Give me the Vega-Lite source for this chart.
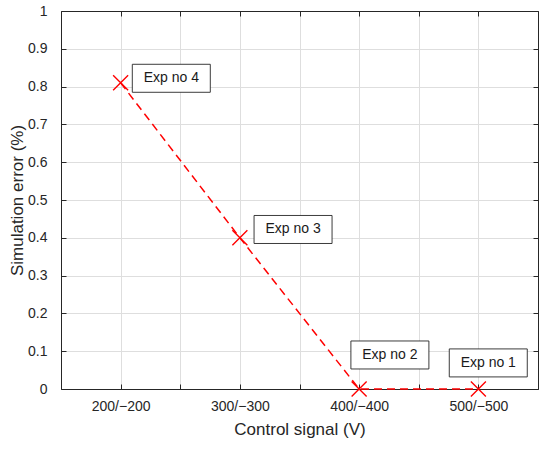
{
  "$schema": "https://vega.github.io/schema/vega-lite/v6.json",
  "width": 477,
  "height": 378,
  "autosize": {"type": "none"},
  "padding": {"left": 61, "top": 11, "right": 12, "bottom": 60},
  "background": "white",
  "config": {
    "font": "Liberation Sans",
    "view": {"stroke": "#262626", "strokeWidth": 1},
    "axis": {
      "labelColor": "#262626",
      "labelFontSize": 14,
      "titleColor": "#262626",
      "titleFontSize": 17,
      "titleFontWeight": "normal",
      "domainColor": "#262626",
      "tickColor": "#262626",
      "gridColor": "#dedede",
      "gridWidth": 1
    }
  },
  "datasets": {
    "runs": [
      {"signal": 2, "err": 0.81, "exp": "Exp no 4"},
      {"signal": 3, "err": 0.4, "exp": "Exp no 3"},
      {"signal": 4, "err": 0.0, "exp": "Exp no 2"},
      {"signal": 5, "err": 0.0, "exp": "Exp no 1"}
    ],
    "notes": [
      {"bx": 2.425, "by": 0.822, "label": "Exp no 4"},
      {"bx": 3.446, "by": 0.422, "label": "Exp no 3"},
      {"bx": 4.258, "by": 0.09, "label": "Exp no 2"},
      {"bx": 5.083, "by": 0.069, "label": "Exp no 1"}
    ]
  },
  "resolve": {"axis": {"x": "independent", "y": "independent"}},
  "layer": [
    {
      "data": {"name": "runs"},
      "mark": {"type": "line", "color": "#ff0000", "strokeDash": [8, 5], "strokeWidth": 1.5},
      "encoding": {
        "x": {
          "field": "signal", "type": "quantitative",
          "scale": {"domain": [1.5, 5.5], "nice": false, "zero": false},
          "axis": {
            "orient": "bottom",
            "values": [2, 2.5, 3, 3.5, 4, 4.5, 5],
            "labelExpr": "datum.value % 1 === 0 ? (datum.value * 100) + '/\u2212' + (datum.value * 100) : ''",
            "tickSize": -5,
            "labelPadding": 15,
            "title": "Control signal (V)",
            "titlePadding": 8
          }
        },
        "y": {
          "field": "err", "type": "quantitative",
          "scale": {"domain": [0, 1], "nice": false},
          "axis": {
            "orient": "left",
            "values": [0, 0.1, 0.2, 0.3, 0.4, 0.5, 0.6, 0.7, 0.8, 0.9, 1],
            "format": "~g",
            "tickSize": -5,
            "labelPadding": 19,
            "title": "Simulation error (%)",
            "titlePadding": 1
          }
        },
        "order": {"field": "signal"}
      }
    },
    {
      "data": {"name": "runs"},
      "mark": {"type": "point", "shape": "M-1,-1L1,1M-1,1L1,-1", "filled": false, "stroke": "#ff0000", "strokeWidth": 1.4, "size": 225, "opacity": 1},
      "encoding": {
        "x": {
          "field": "signal", "type": "quantitative",
          "axis": {"orient": "top", "values": [2, 2.5, 3, 3.5, 4, 4.5, 5], "labels": false, "grid": false, "tickSize": -5, "title": null}
        },
        "y": {
          "field": "err", "type": "quantitative",
          "axis": {"orient": "right", "values": [0, 0.1, 0.2, 0.3, 0.4, 0.5, 0.6, 0.7, 0.8, 0.9, 1], "labels": false, "grid": false, "tickSize": -5, "title": null}
        }
      }
    },
    {
      "data": {"name": "notes"},
      "mark": {"type": "point", "shape": "M-1,-0.359L1,-0.359L1,0.359L-1,0.359Z", "filled": true, "fill": "white", "stroke": "#262626", "strokeWidth": 0.9, "size": 6084, "opacity": 1},
      "encoding": {
        "x": {"field": "bx", "type": "quantitative", "axis": null},
        "y": {"field": "by", "type": "quantitative", "axis": null}
      }
    },
    {
      "data": {"name": "notes"},
      "mark": {"type": "text", "fontSize": 14, "align": "center", "baseline": "middle", "color": "#1a1a1a"},
      "encoding": {
        "x": {"field": "bx", "type": "quantitative", "axis": null},
        "y": {"field": "by", "type": "quantitative", "axis": null},
        "text": {"field": "label"}
      }
    }
  ]
}
